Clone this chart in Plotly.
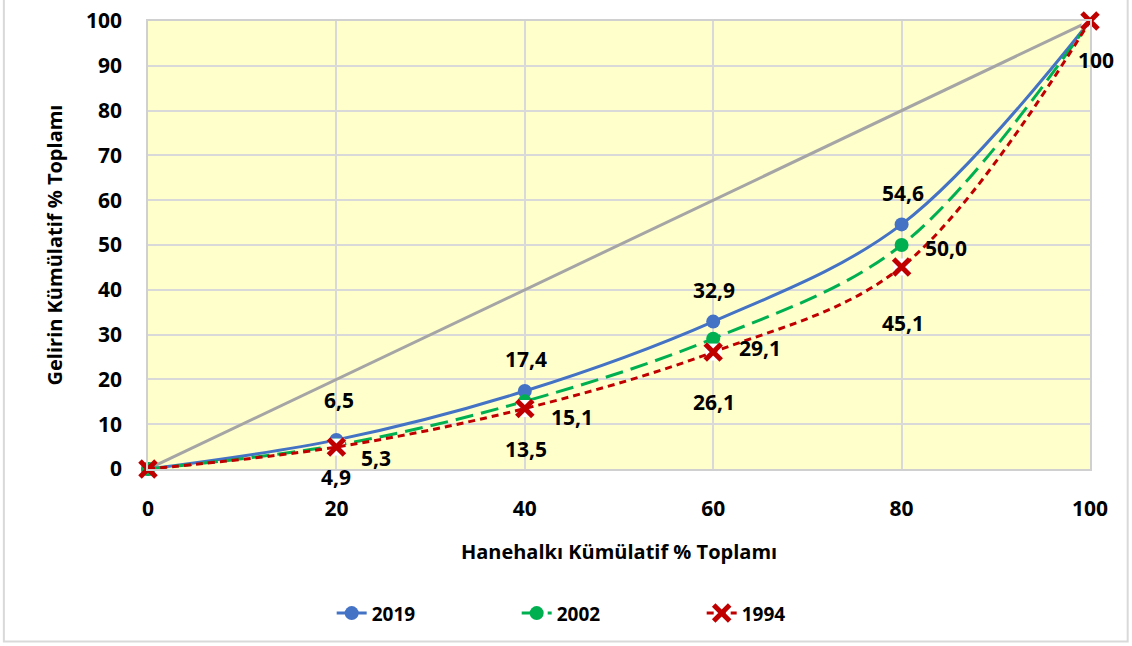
import plotly.graph_objects as go

# Household cumulative share (%) on the x axis
hane = [0, 20, 40, 60, 80, 100]
# Income cumulative share (%) by survey year
gelir_2019 = [0, 6.5, 17.4, 32.9, 54.6, 100]
gelir_2002 = [0, 5.3, 15.1, 29.1, 50.0, 100]
gelir_1994 = [0, 4.9, 13.5, 26.1, 45.1, 100]
# Line of perfect equality
esitlik_x = [0, 100]
esitlik_y = [0, 100]

FONT = "Open Sans"

fig = go.Figure()

fig.add_trace(go.Scatter(
    x=esitlik_x, y=esitlik_y, mode="lines",
    line=dict(color="#A5A5A5", width=3), showlegend=False, hoverinfo="skip",
    cliponaxis=False))

fig.add_trace(go.Scatter(
    x=hane, y=gelir_2019, mode="lines+markers", name="2019",
    line=dict(color="#4472C4", width=3, shape="spline"),
    marker=dict(symbol="circle", size=14, color="#4472C4"),
    cliponaxis=False))

fig.add_trace(go.Scatter(
    x=hane, y=gelir_2002, mode="lines+markers", name="2002",
    line=dict(color="#00B050", width=3, shape="spline", dash="18px,8px"),
    marker=dict(symbol="circle", size=14, color="#00B050"),
    cliponaxis=False))

# white backing boxes behind the 1994 cross markers
fig.add_trace(go.Scatter(
    x=hane[1:], y=gelir_1994[1:], mode="markers",
    marker=dict(symbol="square", size=17, color="white"),
    showlegend=False, hoverinfo="skip", cliponaxis=False))

fig.add_trace(go.Scatter(
    x=hane, y=gelir_1994, mode="lines+markers", name="1994",
    line=dict(color="#C00000", width=3, shape="spline", dash="7px,5px"),
    marker=dict(symbol="x-thin", size=16, color="#C00000",
                line=dict(color="#C00000", width=5)),
    cliponaxis=False))


def fmt(v):
    return f"{v:.1f}".replace(".", ",") if v != 100 else "100"


# data labels: index -> (xshift, yshift) for each series
label_specs = [
    (gelir_2019, {1: (3, 40), 2: (1, 32), 3: (1, 32), 4: (1, 31)}),
    (gelir_2002, {1: (40, -13), 2: (47, -16), 3: (47, -9), 4: (44, -3)}),
    (gelir_1994, {1: (0, -30), 2: (1, -40), 3: (1, -50), 4: (1, -56), 5: (6, -39)}),
]
for seri, spec in label_specs:
    for i, (dx, dy) in spec.items():
        fig.add_annotation(
            x=hane[i], y=seri[i], text=fmt(seri[i]), showarrow=False,
            xshift=dx, yshift=dy,
            font=dict(family=FONT, size=21, color="black", weight="bold"))

axis_common = dict(
    showgrid=True, gridcolor="#D9D9D9", gridwidth=1.5,
    showline=True, linecolor="#D0D0D0", linewidth=1.5, mirror=True,
    zeroline=False, ticks="outside", tickcolor="rgba(0,0,0,0)",
    automargin=False,
    tickfont=dict(family=FONT, size=21, color="black", weight="bold"),
)

fig.update_layout(
    width=1132, height=646,
    margin=dict(l=148, r=42, t=21, b=177),
    paper_bgcolor="white", plot_bgcolor="#FFFFCC",
    xaxis=dict(range=[0, 100], tick0=0, dtick=20, ticklen=20,
               title=dict(text="Hanehalkı Kümülatif % Toplamı", standoff=24,
                          font=dict(family=FONT, size=20, color="black", weight="bold")),
               **axis_common),
    yaxis=dict(range=[0, 100], tick0=0, dtick=10, ticklen=20,
               title=dict(text="Gelirin Kümülatif % Toplamı", standoff=18,
                          font=dict(family=FONT, size=20, color="black", weight="bold")),
               **axis_common),
    legend=dict(orientation="h", x=0.195, xanchor="left", y=-0.322, yanchor="middle",
                entrywidth=140, entrywidthmode="pixels",
                font=dict(family=FONT, size=19, color="black", weight="bold")),
    shapes=[dict(type="rect", xref="paper", yref="paper",
                 x0=-0.153, x1=1.04, y0=-0.385, y1=1.05,
                 line=dict(color="#D9D9D9", width=2), fillcolor="rgba(0,0,0,0)",
                 layer="below")],
)

fig.write_html("out.html")
